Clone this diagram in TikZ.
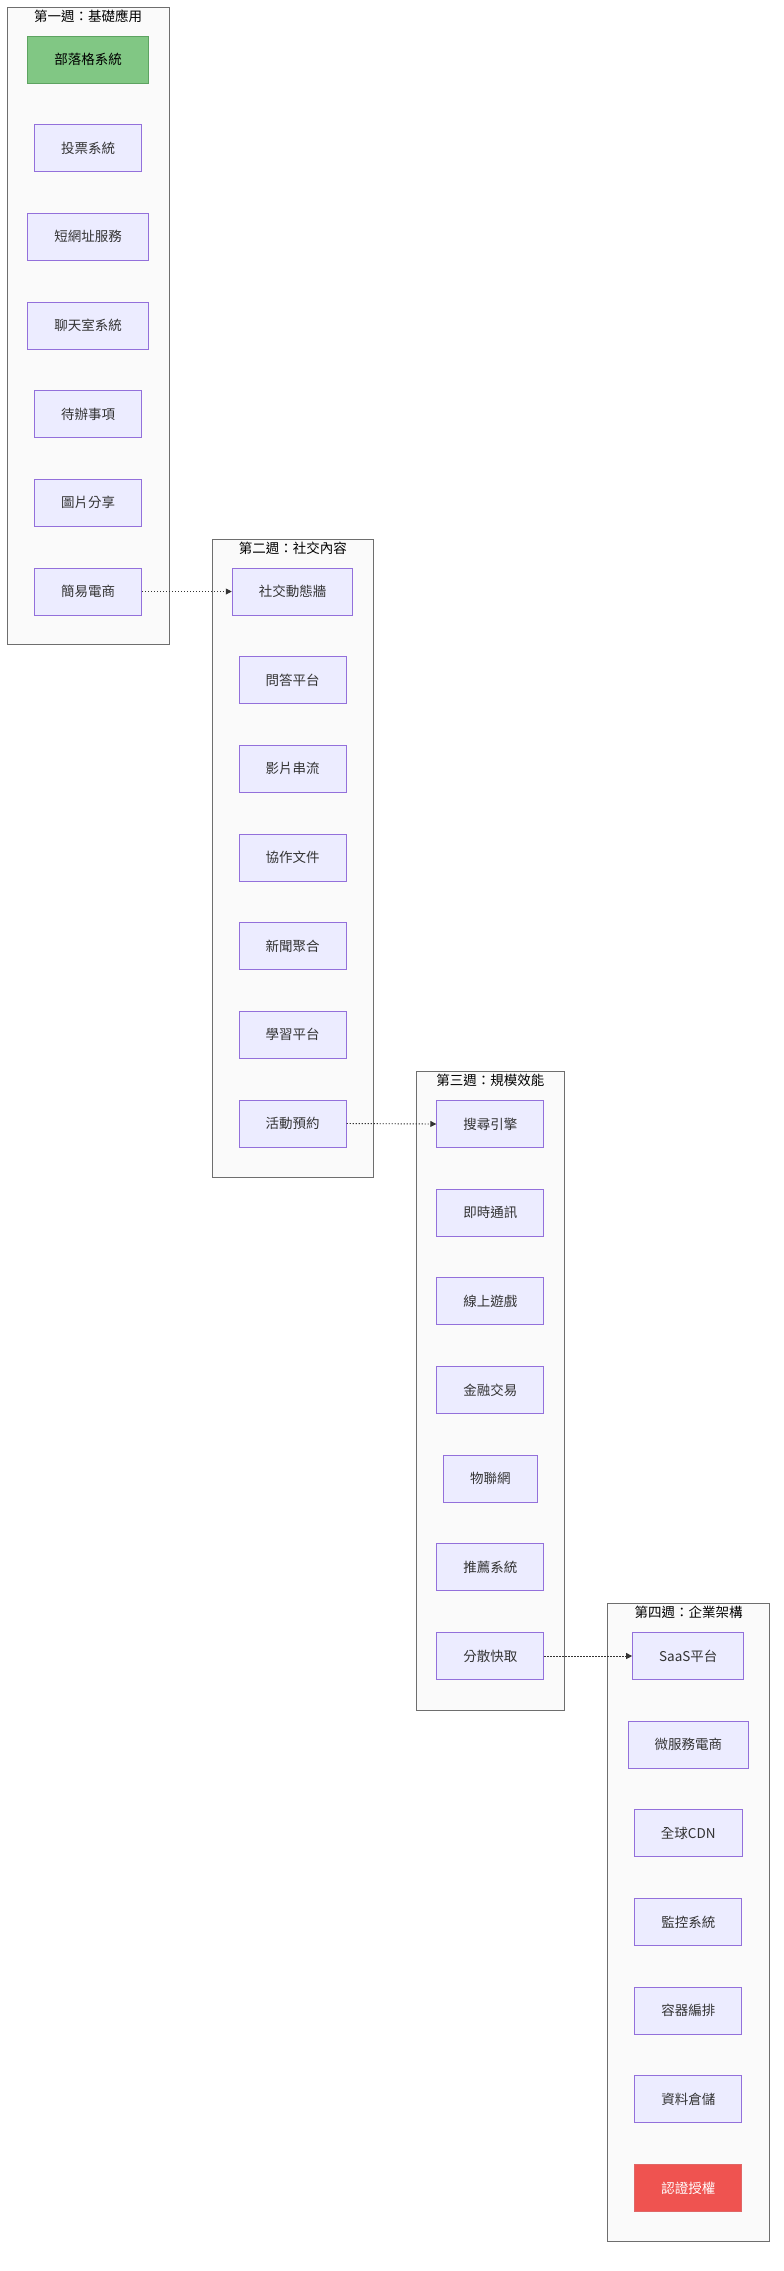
\documentclass[tikz,border=0pt]{standalone}
\usepackage{fontspec}
\newfontfamily\cjk{Noto Sans CJK TC}
\usetikzlibrary{arrows.meta}
\definecolor{nodefill}{HTML}{ECECFF}
\definecolor{nodeline}{HTML}{9370DB}
\definecolor{clfill}{HTML}{FAFAFA}
\definecolor{clline}{HTML}{6E6E6E}
\definecolor{greenfill}{HTML}{81C784}
\definecolor{greenline}{HTML}{5DA361}
\definecolor{redfill}{HTML}{EF5350}
\definecolor{redline}{HTML}{E06666}
\definecolor{txt}{HTML}{333333}
\begin{document}
\begin{tikzpicture}[x=1pt,y=-1pt,
  box/.style={draw=nodeline, fill=nodefill, line width=1pt, minimum height=47pt,
    inner xsep=26.5pt, inner ysep=0pt, text=txt, font=\cjk\fontsize{13.5}{16}\selectfont},
  greenbox/.style={box, draw=greenline, fill=greenfill, text=black},
  redbox/.style={box, draw=redline, fill=redfill, text=white},
  cluster/.style={draw=clline, fill=clfill, line width=1pt, inner sep=0pt, anchor=north west},
  title/.style={inner sep=0pt, text=black, font=\cjk\fontsize{13.5}{16}\selectfont},
  link/.style={draw=txt, dash pattern=on 1.3pt off 1.7pt, line width=0.9pt,
    -{Triangle[length=6pt,width=6pt]}}
]
\useasboundingbox (0,0) rectangle (784,2271);
\fill[white] (0,0) rectangle (784,2271);

% clusters
\node[cluster, minimum width=161.5pt, minimum height=636.5pt] (c1) at (7,7) {};
\node[cluster, minimum width=161.3pt, minimum height=637.7pt] (c2) at (211.7,539) {};
\node[cluster, minimum width=147.8pt, minimum height=638.6pt] (c3) at (416,1071) {};
\node[cluster, minimum width=162.6pt, minimum height=637.4pt] (c4) at (606.7,1603.3) {};

\node[title] (t1) at ([yshift=-9pt]c1.north) {第一週：基礎應用};
\node[title] (t2) at ([yshift=-9pt]c2.north) {第二週：社交內容};
\node[title] (t3) at ([yshift=-9pt]c3.north) {第三週：規模效能};
\node[title] (t4) at ([yshift=-9pt]c4.north) {第四週：企業架構};

% week 1
\node[greenbox] (a1) at (88,59.5) {部落格系統};
\node[box] (a2) at (88,148.2) {投票系統};
\node[box] (a3) at (88,236.8) {短網址服務};
\node[box] (a4) at (88,325.5) {聊天室系統};
\node[box] (a5) at (88,414.2) {待辦事項};
\node[box] (a6) at (88,502.8) {圖片分享};
\node[box] (a7) at (88,591.5) {簡易電商};

% week 2
\node[box] (b1) at (292.5,591.5) {社交動態牆};
\node[box] (b2) at (292.5,680.2) {問答平台};
\node[box] (b3) at (292.5,768.8) {影片串流};
\node[box] (b4) at (292.5,857.5) {協作文件};
\node[box] (b5) at (292.5,946.2) {新聞聚合};
\node[box] (b6) at (292.5,1034.8) {學習平台};
\node[box] (b7) at (292.5,1123.5) {活動預約};

% week 3
\node[box] (d1) at (490.3,1124) {搜尋引擎};
\node[box] (d2) at (490.3,1212.7) {即時通訊};
\node[box] (d3) at (490.3,1301.3) {線上遊戲};
\node[box] (d4) at (490.3,1390) {金融交易};
\node[box] (d5) at (490.3,1478.7) {物聯網};
\node[box] (d6) at (490.3,1567.3) {推薦系統};
\node[box] (d7) at (490.3,1656) {分散快取};

% week 4
\node[box] (e1) at (688.3,1656) {SaaS平台};
\node[box] (e2) at (688.3,1744.7) {微服務電商};
\node[box] (e3) at (688.3,1833.3) {全球CDN};
\node[box] (e4) at (688.3,1922) {監控系統};
\node[box] (e5) at (688.3,2010.7) {容器編排};
\node[box] (e6) at (688.3,2099.3) {資料倉儲};
\node[redbox] (e7) at (688.3,2188) {認證授權};

% links
\draw[link] (a7.east) -- (b1.west);
\draw[link] (b7.east) -- (d1.west);
\draw[link] (d7.east) -- (e1.west);
\end{tikzpicture}
\end{document}
